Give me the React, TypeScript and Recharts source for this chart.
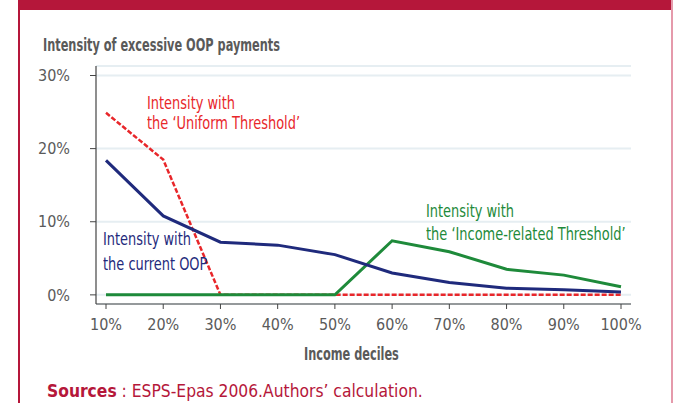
import { LineChart, Line, XAxis, YAxis, CartesianGrid } from 'recharts';

const deciles = ['10%', '20%', '30%', '40%', '50%', '60%', '70%', '80%', '90%', '100%'];
const currentOop = [18.4, 10.8, 7.2, 6.8, 5.5, 3.0, 1.7, 0.9, 0.7, 0.4];
const uniformThreshold = [24.9, 18.5, 0, 0, 0, 0, 0, 0, 0, 0];
const incomeThreshold = [0, 0, 0, 0, 0, 7.4, 5.9, 3.5, 2.7, 1.1];
const yTicks = [0, 10, 20, 30];

const data = deciles.map((d, i) => ({
  decile: d,
  current: currentOop[i],
  uniform: uniformThreshold[i],
  income: incomeThreshold[i],
}));

const FONT = "'DejaVu Sans Condensed', 'DejaVu Sans', sans-serif";
const CRIMSON = '#b5173a';
const GREY = '#5a5a5a';

// condensed text, narrowed further to match the source's typeface widths
function Label({ x, y, size, color, squeeze = 0.8, bold = false, children }: {
  x: number; y: number; size: number; color: string; squeeze?: number; bold?: boolean; children: React.ReactNode;
}) {
  return (
    <div
      style={{
        position: 'absolute',
        left: x,
        top: y,
        fontFamily: FONT,
        fontSize: size,
        fontWeight: bold ? 700 : 400,
        color,
        whiteSpace: 'nowrap',
        lineHeight: 1,
        transform: `scaleX(${squeeze})`,
        transformOrigin: 'left top',
      }}
    >
      {children}
    </div>
  );
}

export default function App() {
  return (
    <div style={{ position: 'absolute', left: 0, top: 0, width: 673, height: 403, background: '#fff', overflow: 'hidden' }}>
      {/* frame */}
      <div style={{ position: 'absolute', left: 18, top: 0, width: 655, height: 10, background: CRIMSON }} />
      <div style={{ position: 'absolute', left: 18, top: 0, width: 1.5, height: 403, background: CRIMSON }} />
      <div style={{ position: 'absolute', left: 671, top: 0, width: 1.5, height: 403, background: '#e59aab' }} />

      <Label x={43} y={37} size={17} color={GREY} bold squeeze={0.74}>
        Intensity of excessive OOP payments
      </Label>

      <LineChart
        width={673}
        height={403}
        data={data}
        margin={{ top: 66, right: 42, left: 0, bottom: 69 }}
      >
        <CartesianGrid vertical={false} stroke="#e6eef2" strokeWidth={2} />
        <XAxis
          dataKey="decile"
          padding={{ left: 10, right: 10 }}
          height={30}
          tickSize={5}
          tickMargin={10}
          axisLine={{ stroke: '#444', strokeWidth: 1.2 }}
          tickLine={{ stroke: '#444' }}
          tick={{ fontSize: 16, fill: GREY, fontFamily: FONT }}
        />
        <YAxis
          width={96}
          domain={[-1.25, 31.3]}
          ticks={yTicks}
          tickFormatter={(v) => `${v}%`}
          tickSize={6}
          tickMargin={20}
          axisLine={{ stroke: '#444', strokeWidth: 1.2 }}
          tickLine={{ stroke: '#444' }}
          tick={{ fontSize: 16, fill: GREY, fontFamily: FONT }}
        />
        <Line
          dataKey="uniform"
          stroke="#e8262a"
          strokeWidth={2.5}
          strokeDasharray="5 2"
          dot={false}
          isAnimationActive={false}
        />
        <Line
          dataKey="income"
          stroke="#1e8a3a"
          strokeWidth={3}
          dot={false}
          isAnimationActive={false}
        />
        <Line
          dataKey="current"
          stroke="#1f2a7c"
          strokeWidth={3}
          dot={false}
          isAnimationActive={false}
        />
      </LineChart>

      <Label x={147} y={94} size={18} color="#e8262a">Intensity with</Label>
      <Label x={147} y={114} size={18} color="#e8262a">the ‘Uniform Threshold’</Label>

      <Label x={103} y={230} size={18} color="#1f2a7c">Intensity with</Label>
      <Label x={103} y={255} size={18} color="#1f2a7c">the current OOP</Label>

      <Label x={426} y={202} size={18} color="#1e8a3a">Intensity with</Label>
      <Label x={426} y={225} size={18} color="#1e8a3a">the ‘Income-related Threshold’</Label>

      <Label x={304} y={346} size={17} color={GREY} bold squeeze={0.74}>Income deciles</Label>

      <Label x={47} y={382} size={18} color={CRIMSON} squeeze={0.96}>
        <span style={{ fontWeight: 700 }}>Sources</span> : ESPS-Epas 2006.Authors’ calculation.
      </Label>
    </div>
  );
}
